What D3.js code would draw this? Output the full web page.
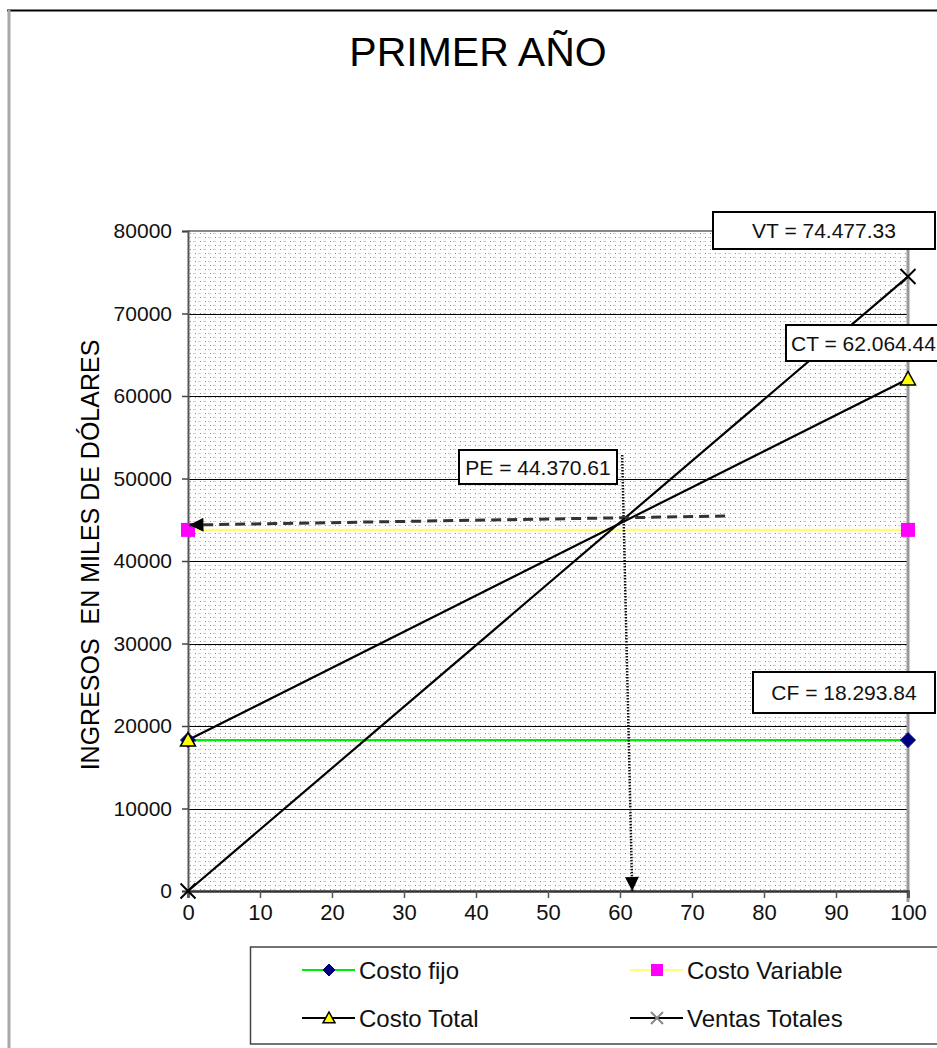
<!DOCTYPE html>
<html>
<head>
<meta charset="utf-8">
<script src="https://cdn.jsdelivr.net/npm/d3@7"></script>
<style>
  html, body { margin: 0; padding: 0; background: #fff; }
  svg { display: block; font-family: "Liberation Sans", Arial, sans-serif; }
</style>
</head>
<body>
<svg id="chart" width="937" height="1048"></svg>
<script>
// Production level (% of capacity) and the break-even series
const levels = [0, 100];
const costoFijo = [18293.84, 18293.84];
const costoVariable = [43770.60, 43770.60];
const costoTotal = [18293.84, 62064.44];
const ventasTotales = [0, 74477.33];

const xTicks = [0, 10, 20, 30, 40, 50, 60, 70, 80, 90, 100];
const yTicks = [0, 10000, 20000, 30000, 40000, 50000, 60000, 70000, 80000];

// Break-even point and the guide arrows pointing to it
const puntoEquilibrio = 44370.61;
const flechaHorizontal = [[74.6, 45450], [0.2, 44360]];
const flechaVertical = [[60.3, 52850], [61.7, 0]];

const etiquetas = [
  { text: "VT = 74.477.33", x: 713, y: 212, w: 222, h: 37 },
  { text: "CT = 62.064.44", x: 786, y: 325, w: 170, h: 36, left: true },
  { text: "PE = 44.370.61", x: 459, y: 450, w: 158, h: 34 },
  { text: "CF = 18.293.84", x: 753, y: 672, w: 182, h: 41 }
];

const svg = d3.select("#chart");
const margin = { left: 188, right: 29, top: 231, bottom: 157 };
const W = 937 - margin.left - margin.right;
const H = 1048 - margin.top - margin.bottom;

const x = d3.scaleLinear().domain([0, 100]).range([margin.left, margin.left + W]);
const y = d3.scaleLinear().domain([0, 80000]).range([margin.top + H, margin.top]);

// Dotted fill used for the plot area
const defs = svg.append("defs");
const pat = defs.append("pattern").attr("id", "puntos")
  .attr("patternUnits", "userSpaceOnUse").attr("width", 10).attr("height", 8);
pat.append("rect").attr("width", 10).attr("height", 8).attr("fill", "#fff");
pat.append("rect").attr("x", 0).attr("y", 1).attr("width", 1).attr("height", 1).attr("fill", "#888");
pat.append("rect").attr("x", 3).attr("y", 1).attr("width", 3).attr("height", 1).attr("fill", "#d0d0d0");
pat.append("rect").attr("x", 5).attr("y", 5).attr("width", 1).attr("height", 1).attr("fill", "#888");
pat.append("rect").attr("x", 8).attr("y", 5).attr("width", 2).attr("height", 1).attr("fill", "#d0d0d0");
pat.append("rect").attr("x", 0).attr("y", 5).attr("width", 1).attr("height", 1).attr("fill", "#d0d0d0");

// Solid arrowheads for the guides
defs.append("marker").attr("id", "flecha")
  .attr("viewBox", "0 0 10 10").attr("refX", 10).attr("refY", 5)
  .attr("markerWidth", 17).attr("markerHeight", 14)
  .attr("markerUnits", "userSpaceOnUse").attr("orient", "auto")
  .append("path").attr("d", "M0,0 L10,5 L0,10 Z").attr("fill", "#000");

// Outer frame
svg.append("line").attr("x1", 7).attr("x2", 937).attr("y1", 10.5).attr("y2", 10.5)
  .attr("stroke", "#000").attr("stroke-width", 2);
svg.append("line").attr("x1", 9).attr("x2", 9).attr("y1", 10).attr("y2", 1048)
  .attr("stroke", "#a8a8a8").attr("stroke-width", 3);

// Title
svg.append("text").attr("x", 478).attr("y", 66).attr("text-anchor", "middle")
  .attr("font-size", 41).attr("fill", "#000").text("PRIMER AÑO");

// Plot area
svg.append("rect").attr("x", margin.left).attr("y", margin.top)
  .attr("width", W).attr("height", H).attr("fill", "url(#puntos)");

// Horizontal gridlines
svg.append("g").selectAll("line").data(yTicks.filter(t => t > 0 && t < 80000)).join("line")
  .attr("x1", x(0)).attr("x2", x(100))
  .attr("y1", d => Math.round(y(d)) + 0.5).attr("y2", d => Math.round(y(d)) + 0.5)
  .attr("stroke", "#000").attr("stroke-width", 1);

// Top and right borders of the plot
svg.append("line").attr("x1", x(0)).attr("x2", x(100)).attr("y1", y(80000)).attr("y2", y(80000))
  .attr("stroke", "#888").attr("stroke-width", 2);
svg.append("line").attr("x1", x(100)).attr("x2", x(100)).attr("y1", y(80000)).attr("y2", y(0) + 11)
  .attr("stroke", "#9a9a9a").attr("stroke-width", 3);

// Axes
const yAxis = svg.append("g").attr("transform", `translate(${x(0)},0)`)
  .call(d3.axisLeft(y).tickValues(yTicks).tickFormat(d3.format("d")).tickSize(6).tickPadding(10));
yAxis.select(".domain").attr("stroke", "#555").attr("stroke-width", 2);
yAxis.selectAll(".tick line").attr("stroke", "#444").attr("stroke-width", 1.5);
yAxis.selectAll("text").attr("font-size", 21).attr("fill", "#111")
  .attr("font-family", "Liberation Sans, Arial, sans-serif");

const xAxis = svg.append("g").attr("transform", `translate(0,${y(0)})`)
  .call(d3.axisBottom(x).tickValues(xTicks).tickFormat(d3.format("d")).tickSize(7).tickPadding(6));
xAxis.select(".domain").attr("stroke", "#333").attr("stroke-width", 2.5);
xAxis.selectAll(".tick line").attr("stroke", "#555").attr("stroke-width", 1.5);
xAxis.selectAll("text").attr("font-size", 22).attr("fill", "#111")
  .attr("font-family", "Liberation Sans, Arial, sans-serif");

// Y axis title
svg.append("text")
  .attr("transform", `translate(99,555) rotate(-90)`)
  .attr("text-anchor", "middle").attr("font-size", 25).attr("fill", "#000")
  .attr("xml:space", "preserve").text("INGRESOS  EN MILES DE DÓLARES");

// Series
const series = [
  { name: "Costo fijo", values: costoFijo, color: "#00ee00", marker: "diamond", mfill: "#000080" },
  { name: "Costo Variable", values: costoVariable, color: "#ffff77", marker: "square", mfill: "#ff00ff" },
  { name: "Costo Total", values: costoTotal, color: "#000", marker: "triangle", mfill: "#ffff00" },
  { name: "Ventas Totales", values: ventasTotales, color: "#000", marker: "cross", mfill: "none" }
];

const line = d3.line().x(d => x(d[0])).y(d => y(d[1]));

function drawMarker(g, type, fill, size, crossColor) {
  const s = size / 2;
  if (type === "diamond") {
    g.append("path").attr("d", `M0,${-s} L${s},0 L0,${s} L${-s},0 Z`)
      .attr("fill", fill).attr("stroke", fill).attr("stroke-width", 1);
  } else if (type === "square") {
    g.append("rect").attr("x", -s).attr("y", -s)
      .attr("width", size).attr("height", size).attr("fill", fill);
  } else if (type === "triangle") {
    g.append("path").attr("d", `M0,${-s} L${s},${s * 0.8} L${-s},${s * 0.8} Z`)
      .attr("fill", fill).attr("stroke", "#000").attr("stroke-width", 1.5);
  } else {
    g.append("path").attr("d", `M${-s},${-s} L${s},${s} M${s},${-s} L${-s},${s}`)
      .attr("stroke", crossColor || "#000").attr("stroke-width", 2);
  }
}

series.forEach(s => {
  const pts = levels.map((l, i) => [l, s.values[i]]);
  svg.append("path").datum(pts).attr("d", line)
    .attr("fill", "none").attr("stroke", s.color).attr("stroke-width", 2.2);
});
series.forEach(s => {
  const pts = levels.map((l, i) => [l, s.values[i]]);
  pts.forEach(p => {
    const g = svg.append("g").attr("transform", `translate(${x(p[0])},${y(p[1])})`);
    drawMarker(g, s.marker, s.mfill, s.marker === "square" ? 14 : 15);
  });
});

// Guide arrows to the break-even point
svg.append("path").datum(flechaHorizontal).attr("d", line)
  .attr("fill", "none").attr("stroke", "#333").attr("stroke-width", 3)
  .attr("stroke-dasharray", "10,6").attr("marker-end", "url(#flecha)");
svg.append("path").datum(flechaVertical).attr("d", line)
  .attr("fill", "none").attr("stroke", "#111").attr("stroke-width", 2.5)
  .attr("stroke-dasharray", "1.5,1.5").attr("marker-end", "url(#flecha)");

// Value callouts
etiquetas.forEach(e => {
  svg.append("rect").attr("x", e.x).attr("y", e.y).attr("width", e.w).attr("height", e.h)
    .attr("fill", "#fff").attr("stroke", "#000").attr("stroke-width", 2);
  svg.append("text")
    .attr("x", e.left ? e.x + 5 : e.x + e.w / 2)
    .attr("y", e.y + e.h / 2 + 7.5)
    .attr("text-anchor", e.left ? "start" : "middle")
    .attr("font-size", 21).attr("fill", "#111").text(e.text);
});

// Legend
const leg = svg.append("g");
leg.append("rect").attr("x", 250.5).attr("y", 947).attr("width", 700).attr("height", 97)
  .attr("fill", "#fff").attr("stroke", "#444").attr("stroke-width", 1.5);
const legPos = [[302, 970], [630, 970], [302, 1018], [630, 1018]];
series.forEach((s, i) => {
  const [lx, ly] = legPos[i];
  leg.append("line").attr("x1", lx).attr("x2", lx + 53).attr("y1", ly).attr("y2", ly)
    .attr("stroke", s.color).attr("stroke-width", 2);
  const g = leg.append("g").attr("transform", `translate(${lx + 27},${ly})`);
  drawMarker(g, s.marker, s.mfill, 12, "#888");
  leg.append("text").attr("x", lx + 57).attr("y", ly + 8.5).attr("font-size", 24)
    .attr("fill", "#111").text(s.name);
});
</script>
</body>
</html>
